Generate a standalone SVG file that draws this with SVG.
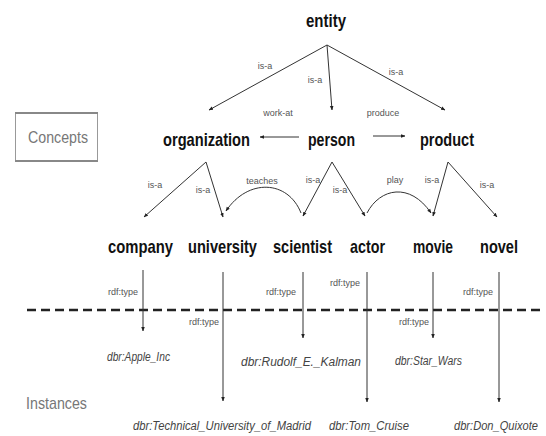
<svg xmlns="http://www.w3.org/2000/svg" width="546" height="436" viewBox="0 0 546 436">
<defs>
<marker id="ah" viewBox="0 0 10 10" refX="9" refY="5" markerWidth="4.5" markerHeight="4.5" orient="auto" markerUnits="userSpaceOnUse">
<path d="M0,1 L10,5 L0,9 z" fill="#222"/>
</marker>
<style>
.c{font-family:"Liberation Sans",Arial,sans-serif;font-weight:bold;font-size:19px;fill:#111}
.l{font-family:"Liberation Sans",Arial,sans-serif;font-size:9px;fill:#555;text-anchor:middle}
.i{font-family:"Liberation Sans",Arial,sans-serif;font-style:italic;font-size:12px;fill:#444}
.g{font-family:"Liberation Sans",Arial,sans-serif;font-size:17px;fill:#777}
.e{fill:none;stroke:#333;stroke-width:1;marker-end:url(#ah)}
</style>
</defs>
<rect width="546" height="436" fill="#fff"/>

<g id="concepts-box">
<rect x="15.5" y="112.5" width="82" height="49" fill="#fff" stroke="#999" stroke-width="1"/>
<line x1="15" y1="113" x2="98" y2="113" stroke="#888" stroke-width="2"/>
<line x1="15" y1="161" x2="98" y2="161" stroke="#888" stroke-width="2"/>
<text class="g" x="28" y="143" textLength="60" lengthAdjust="spacingAndGlyphs">Concepts</text>
</g>
<g id="instances-label">
<text class="g" x="26" y="409" textLength="61" lengthAdjust="spacingAndGlyphs">Instances</text>
</g>

<g id="separator">
<line x1="27" y1="310" x2="540" y2="310" stroke="#222" stroke-width="2.5" stroke-dasharray="9 5"/>
</g>

<g id="connectors">
<path class="e" d="M327,45 L209,110"/>
<path class="e" d="M327,45 L332,110"/>
<path class="e" d="M327,45 L445,110"/>
<path class="e" d="M299,137 L260,137"/>
<path class="e" d="M373,136 L405,136"/>
<path class="e" d="M206,162 L144,217"/>
<path class="e" d="M206,162 L223,217"/>
<path class="e" d="M332,162 L303,216"/>
<path class="e" d="M332,162 L365,216"/>
<path class="e" d="M448,162 L433,216"/>
<path class="e" d="M448,162 L497,217"/>
<path class="e" d="M301,213 C288,180 248,178 226,211"/>
<path class="e" d="M367,213 C380,188 410,182 431,213"/>
<path class="e" d="M143,270 L143,331"/>
<path class="e" d="M223,272 L223,401"/>
<path class="e" d="M303,272 L303,338"/>
<path class="e" d="M367,272 L367,402"/>
<path class="e" d="M433,272 L433,338"/>
<path class="e" d="M499,272 L499,402"/>
<text class="l" x="265" y="69">is-a</text>
<text class="l" x="315" y="83">is-a</text>
<text class="l" x="396" y="75">is-a</text>
<text class="l" x="278" y="116">work-at</text>
<text class="l" x="383" y="116">produce</text>
<text class="l" x="155" y="188">is-a</text>
<text class="l" x="203" y="193">is-a</text>
<text class="l" x="262" y="184">teaches</text>
<text class="l" x="313" y="183">is-a</text>
<text class="l" x="340" y="193">is-a</text>
<text class="l" x="395" y="183">play</text>
<text class="l" x="432" y="183">is-a</text>
<text class="l" x="487" y="188">is-a</text>
<text class="l" x="123" y="295">rdf:type</text>
<text class="l" x="204" y="325">rdf:type</text>
<text class="l" x="281" y="295">rdf:type</text>
<text class="l" x="345" y="286">rdf:type</text>
<text class="l" x="414" y="325">rdf:type</text>
<text class="l" x="478" y="295">rdf:type</text>
</g>

<g id="entity"><text class="c" x="306" y="27" textLength="40" lengthAdjust="spacingAndGlyphs">entity</text></g>
<g id="organization"><text class="c" x="163" y="146" textLength="87" lengthAdjust="spacingAndGlyphs">organization</text></g>
<g id="person"><text class="c" x="308" y="146" textLength="47" lengthAdjust="spacingAndGlyphs">person</text></g>
<g id="product"><text class="c" x="420" y="146" textLength="54" lengthAdjust="spacingAndGlyphs">product</text></g>
<g id="company"><text class="c" x="108" y="253" textLength="65" lengthAdjust="spacingAndGlyphs">company</text></g>
<g id="university"><text class="c" x="188" y="253" textLength="69" lengthAdjust="spacingAndGlyphs">university</text></g>
<g id="scientist"><text class="c" x="273" y="253" textLength="59" lengthAdjust="spacingAndGlyphs">scientist</text></g>
<g id="actor"><text class="c" x="350" y="253" textLength="35" lengthAdjust="spacingAndGlyphs">actor</text></g>
<g id="movie"><text class="c" x="413" y="253" textLength="40" lengthAdjust="spacingAndGlyphs">movie</text></g>
<g id="novel"><text class="c" x="480" y="253" textLength="38" lengthAdjust="spacingAndGlyphs">novel</text></g>

<g id="dbr-apple"><text class="i" x="107" y="361" textLength="63" lengthAdjust="spacingAndGlyphs">dbr:Apple_Inc</text></g>
<g id="dbr-rudolf"><text class="i" x="241" y="366" textLength="120" lengthAdjust="spacingAndGlyphs">dbr:Rudolf_E._Kalman</text></g>
<g id="dbr-starwars"><text class="i" x="395" y="365" textLength="67" lengthAdjust="spacingAndGlyphs">dbr:Star_Wars</text></g>
<g id="dbr-tum"><text class="i" x="133" y="430" textLength="178" lengthAdjust="spacingAndGlyphs">dbr:Technical_University_of_Madrid</text></g>
<g id="dbr-tom"><text class="i" x="329" y="430" textLength="80" lengthAdjust="spacingAndGlyphs">dbr:Tom_Cruise</text></g>
<g id="dbr-don"><text class="i" x="454" y="430" textLength="84" lengthAdjust="spacingAndGlyphs">dbr:Don_Quixote</text></g>
</svg>
